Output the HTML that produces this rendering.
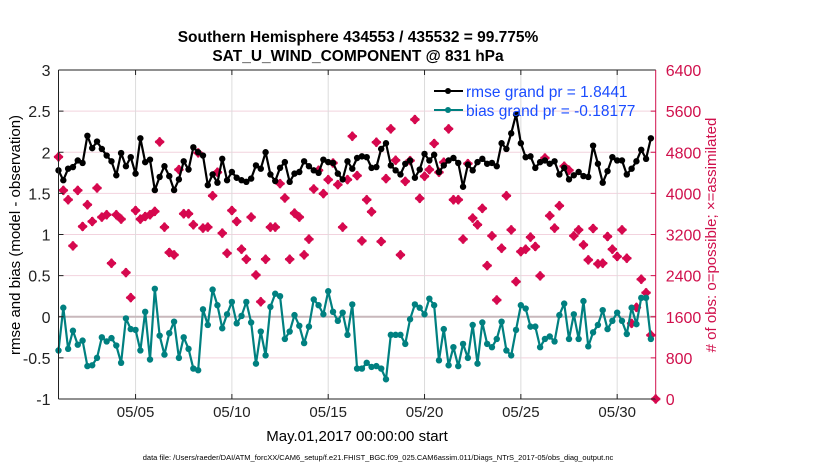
<!DOCTYPE html>
<html><head><meta charset="utf-8"><style>
html,body{margin:0;padding:0;background:#fff;}
svg{display:block;font-family:"Liberation Sans",Arial,sans-serif;}
</style></head><body>
<svg id="chart" width="830" height="470" viewBox="0 0 830 470" xmlns="http://www.w3.org/2000/svg">
<text x="358" y="42" text-anchor="middle" font-size="15.5" font-weight="bold">Southern Hemisphere 434553 / 435532 = 99.775%</text>
<text x="358" y="61" text-anchor="middle" font-size="15.5" font-weight="bold">SAT_U_WIND_COMPONENT @ 831 hPa</text>
<text transform="translate(20,235) rotate(-90)" text-anchor="middle" font-size="15">rmse and bias (model - observation)</text>
<text transform="translate(716,235) rotate(-90)" text-anchor="middle" font-size="15" fill="#d0104c"># of obs: o=possible; ×=assimilated</text>
<text x="357" y="441" text-anchor="middle" font-size="15">May.01,2017 00:00:00 start</text>
<text x="378" y="460" text-anchor="middle" font-size="7.5">data file: /Users/raeder/DAI/ATM_forcXX/CAM6_setup/f.e21.FHIST_BGC.f09_025.CAM6assim.011/Diags_NTrS_2017-05/obs_diag_output.nc</text>
<g id="grid"></g>
<g id="marks"></g>
<g id="axes"></g>
<g id="legend">
  <line x1="434" y1="91" x2="463" y2="91" stroke="#000" stroke-width="2"/>
  <circle cx="448" cy="91" r="3" fill="#000"/>
  <text x="466" y="97" font-size="15.5" fill="#1a4cff">rmse grand pr = 1.8441</text>
  <line x1="434" y1="110" x2="463" y2="110" stroke="#008080" stroke-width="2"/>
  <circle cx="448" cy="110" r="3" fill="#008080"/>
  <text x="466" y="116" font-size="15.5" fill="#1a4cff">bias grand pr = -0.18177</text>
</g>
</svg>
<script>
const rmse = [1.78,1.66,1.80,1.82,1.90,1.87,2.20,2.05,2.13,2.04,1.96,1.89,1.72,1.99,1.83,1.94,1.74,2.17,1.88,1.91,1.54,1.70,1.83,1.71,1.54,1.67,1.89,1.79,2.06,2.00,1.96,1.60,
1.73,1.63,1.92,1.66,1.76,1.69,1.66,1.64,1.68,1.84,1.80,2.00,1.73,1.65,1.81,1.88,1.64,1.74,1.76,1.89,1.83,1.78,1.75,1.91,1.88,1.87,1.74,1.67,1.89,1.80,1.93,
1.95,1.94,1.81,1.82,2.04,2.11,1.84,1.78,1.73,1.86,1.90,1.69,1.79,1.98,1.90,1.97,1.76,1.84,1.90,1.93,1.87,1.58,1.85,1.78,1.88,1.92,1.86,1.87,1.83,2.11,2.04,
2.23,2.46,2.11,1.94,1.95,1.81,1.88,1.90,1.86,1.89,1.73,1.81,1.67,1.72,1.76,1.71,1.70,2.08,1.86,1.63,1.77,1.94,1.90,1.90,1.73,1.80,1.89,2.03,1.92,2.17];
const bias = [-0.41,0.11,-0.39,-0.17,-0.34,-0.29,-0.60,-0.59,-0.50,-0.25,-0.30,-0.26,-0.35,-0.56,-0.02,-0.15,-0.16,-0.41,0.06,-0.52,0.34,-0.23,-0.46,-0.20,-0.06,-0.50,-0.25,-0.39,-0.63,-0.65,0.09,-0.10,
0.33,0.14,-0.14,0.03,0.18,-0.08,0.01,0.18,-0.07,-0.57,-0.18,-0.47,0.12,0.28,0.25,-0.27,-0.18,0.02,-0.11,-0.32,-0.12,0.21,0.14,0.03,0.31,0.06,-0.05,0.05,-0.22,0.15,-0.63,
-0.63,-0.56,-0.61,-0.60,-0.63,-0.76,-0.22,-0.22,-0.22,-0.33,-0.03,0.15,0.11,0.03,0.22,0.14,-0.53,-0.15,-0.59,-0.37,-0.60,-0.33,-0.50,-0.10,-0.57,-0.07,-0.33,-0.37,-0.27,-0.06,-0.41,
-0.47,-0.16,0.14,0.10,-0.12,-0.12,-0.37,-0.27,-0.24,-0.30,0.02,0.16,-0.27,0.03,-0.27,0.19,-0.36,-0.19,-0.10,0.08,-0.15,-0.05,0.05,-0.05,-0.21,0.11,-0.09,0.23,0.23,-0.27];
const obsCount = [4709,4059,3876,2979,4059,3356,3779,3454,4104,3538,3584,2641,3584,3499,2459,1971,3668,3499,3551,3584,3649,5002,3343,2849,2803,4462,3603,3603,3389,4787,3324,3343,
3954,4410,3226,2836,3668,3454,2914,2719,3538,2413,1893,2719,3343,3343,4189,3909,2719,3616,3538,2803,3109,4085,4449,3994,4267,4592,4169,3343,4267,5112,4345,
3076,3876,3642,4995,3063,4286,5255,4644,2803,4234,4637,5437,3902,4332,4462,4969,4410,4605,5255,3876,3876,3109,4579,3519,3389,3707,2595,3174,1925,2933,3954,
3291,2283,2868,2914,3148,2966,2394,4689,3564,3324,3759,4527,4449,3174,3291,2998,2706,3317,2628,2641,3161,2914,2771,3291,2738,1470,1782,2329,2068,1242,0];
const xTickDays = [4,9,14,19,24,29];
const xTickLabels = ["05/05","05/10","05/15","05/20","05/25","05/30"];
const yTicks = [-1,-0.5,0,0.5,1,1.5,2,2.5,3];
const yTickLabels = ["-1","-0.5","0","0.5","1","1.5","2","2.5","3"];
const rTicks = [0,800,1600,2400,3200,4000,4800,5600,6400];
const rTickLabels = ["0","800","1600","2400","3200","4000","4800","5600","6400"];

const L=58.5,R=655.7,T=70,B=399;
const NS="http://www.w3.org/2000/svg";
function xs(day){return L+(day/31)*(R-L);}
function ys(v){return T+(3-v)/4*(B-T);}
function yr(c){return T+(6400-c)/6400*(B-T);}
function mk(tag,attrs,parent){const e=document.createElementNS(NS,tag);for(const k in attrs)e.setAttribute(k,attrs[k]);parent.appendChild(e);return e;}
const grid=document.getElementById('grid'),marks=document.getElementById('marks'),axes=document.getElementById('axes');

yTicks.forEach((v,i)=>{
  const g=mk('line',{x1:L,x2:R,y1:ys(v),y2:ys(v),stroke:'#f2d3de','stroke-width':1},grid);
  
  
  const t=mk('text',{x:L-8,y:ys(v)+6,'text-anchor':'end','font-size':16,fill:'#222'},axes);
  t.textContent=yTickLabels[i];
  
  
  mk('line',{x1:L,x2:L+5,y1:ys(v),y2:ys(v),stroke:'#222'},axes);
});
rTicks.forEach((c,i)=>{
  const t=mk('text',{x:R+10,y:yr(c)+6,'font-size':16,fill:'#d0104c'},axes);
  t.textContent=rTickLabels[i];
  
  
  mk('line',{x1:R-5,x2:R,y1:yr(c),y2:yr(c),stroke:'#d0104c'},axes);
});
xTickDays.forEach((d,i)=>{
  const g=mk('line',{x1:xs(d),x2:xs(d),y1:T,y2:B,stroke:'#dcdcdc','stroke-width':1},grid);
  
  
  mk('line',{x1:xs(d),x2:xs(d),y1:B,y2:B-5,stroke:'#222'},axes);
  mk('line',{x1:xs(d),x2:xs(d),y1:T,y2:T+5,stroke:'#222'},axes);
  const t=mk('text',{x:xs(d),y:417,'text-anchor':'middle','font-size':15,fill:'#222'},axes);
  t.textContent=xTickLabels[i];
  
  
});
const zl=mk('line',{x1:L,x2:R,y1:ys(0),y2:ys(0),stroke:'#c8b8bc','stroke-width':2},grid);



obsCount.forEach((c,i)=>{
  const x=xs(i*0.25),y=yr(c);
  const g=mk('g',{},marks);
  
  
  mk('path',{d:`M${x},${y-5}L${x+5},${y}L${x},${y+5}L${x-5},${y}Z`,fill:'#d6084e'},g);
  mk('path',{d:`M${x-4.5},${y}H${x+4.5}M${x},${y-4.5}V${y+4.5}`,stroke:'#d6084e','stroke-width':2.4},g);
});
function series(arr,color,name){
  const pts=arr.map((v,i)=>xs(i*0.25).toFixed(2)+','+ys(v).toFixed(2)).join(' ');
  const pl=mk('polyline',{points:pts,fill:'none',stroke:color,'stroke-width':2.2,'stroke-linejoin':'round'},marks);
  
  
  arr.forEach((v,i)=>{
    const c=mk('circle',{cx:xs(i*0.25),cy:ys(v),r:3.2,fill:color},marks);
    
    
  });
}
series(rmse,'#000','rmse');
series(bias,'#008080','bias');

mk('line',{x1:L,x2:L,y1:T,y2:B,stroke:'#222','stroke-width':1},axes);
mk('line',{x1:L,x2:R,y1:B,y2:B,stroke:'#222','stroke-width':1},axes);
mk('line',{x1:L,x2:R,y1:T,y2:T,stroke:'#222','stroke-width':1},axes);
mk('line',{x1:R,x2:R,y1:T,y2:B,stroke:'#d0104c','stroke-width':1},axes);
</script>
</body></html>
